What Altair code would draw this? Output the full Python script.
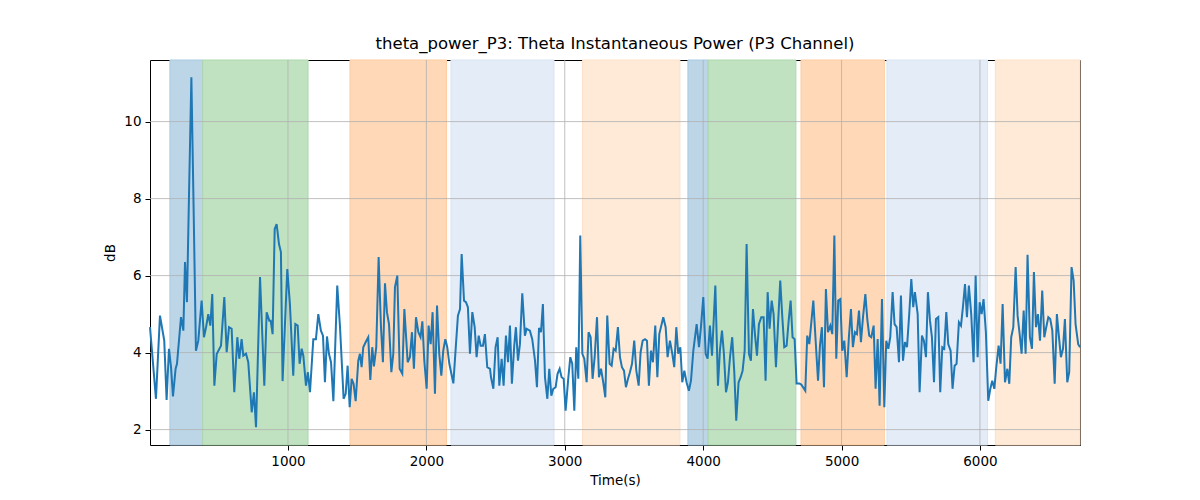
import altair as alt
import pandas as pd

# ---- line data (time in s, power in dB) ----
times = [3, 46, 75, 106, 123, 140, 155, 169, 188, 198, 227, 244, 256, 270, 285, 302, 318, 335, 352, 376,
         393, 408, 424, 439, 453, 468, 485, 516, 540, 557, 574, 593, 612,
         634, 648, 665, 677, 697, 713, 738, 754, 769, 798, 829, 846, 865, 875, 889, 904, 918, 935, 949, 961,
         995, 1014, 1038, 1053, 1070, 1084, 1099, 1111, 1130, 1144, 1159, 1183, 1202, 1219,
         1238, 1253, 1267, 1282, 1296, 1311, 1328, 1356, 1376, 1402, 1417, 1431, 1446, 1460, 1474, 1489,
         1508, 1520, 1532, 1544, 1561, 1580, 1595, 1609, 1621, 1638, 1655, 1672, 1686, 1701, 1715, 1730,
         1747, 1761, 1773, 1790, 1807, 1826, 1841,
         1865, 1881, 1896, 1910, 1925, 1942, 1958, 1971, 1985, 2002, 2016, 2031, 2045, 2062, 2077, 2093,
         2108, 2122, 2137, 2151, 2166, 2195, 2214, 2228, 2243, 2255, 2272, 2286, 2300, 2315, 2332, 2349,
         2363, 2378, 2392, 2409, 2423, 2440, 2460,
         2467, 2484, 2500, 2515, 2527, 2544, 2558, 2575, 2590, 2604, 2618, 2635, 2647, 2662, 2676, 2693,
         2712, 2724, 2748, 2765, 2785, 2799, 2814, 2828, 2842, 2857, 2874, 2888, 2903, 2917, 2934, 2948,
         2963, 2977, 2992, 3006, 3026, 3040, 3054, 3069,
         3083, 3098, 3112, 3127, 3141, 3158, 3172, 3187, 3201, 3216, 3233, 3247, 3262, 3278, 3293, 3307,
         3324, 3339, 3353, 3368, 3384, 3399, 3413, 3428, 3442, 3457, 3471, 3486, 3502, 3517, 3534, 3548,
         3563, 3580, 3594, 3608, 3623, 3637, 3654, 3669, 3683,
         3712, 3729, 3743, 3760, 3777, 3791, 3806, 3820, 3835, 3849, 3864, 3880, 3897, 3912, 3929, 3953,
         3970, 3984, 4001, 4018, 4032, 4049, 4064, 4088, 4107, 4121, 4136, 4150, 4165, 4179, 4194, 4210,
         4225, 4239, 4256, 4271,
         4285, 4300, 4314, 4331, 4345, 4360, 4374, 4389, 4403, 4420, 4437, 4451, 4466, 4480, 4495, 4509,
         4526, 4540, 4557, 4572, 4586, 4603, 4618, 4632, 4646, 4661, 4675, 4695, 4709, 4738, 4752, 4767,
         4796, 4810, 4830, 4844, 4858, 4873, 4887, 4902,
         4919, 4933, 4948, 4962, 4976, 4991, 5005, 5020, 5037, 5053, 5068, 5082, 5097, 5111, 5126, 5140,
         5155, 5172, 5186, 5200, 5215, 5232, 5246, 5261, 5275, 5292, 5309, 5323, 5338, 5352, 5369, 5383,
         5398, 5415, 5429, 5444, 5458, 5473, 5489, 5504, 5518, 5530,
         5550, 5564, 5581, 5595, 5610, 5624, 5639, 5653, 5668, 5682, 5699, 5713, 5728, 5742, 5757, 5771,
         5788, 5802, 5817, 5831, 5848, 5863, 5877, 5892, 5906, 5920, 5937, 5954, 5969, 5983, 5998, 6012,
         6026, 6043, 6060, 6075, 6089, 6104, 6118, 6135,
         6149, 6164, 6181, 6198, 6212, 6226, 6241, 6258, 6272, 6287, 6301, 6316, 6330, 6344, 6361, 6376,
         6390, 6405, 6419, 6434, 6450, 6465, 6479, 6494, 6508, 6523, 6540, 6556, 6571, 6585, 6600, 6614,
         6631, 6645, 6662, 6677, 6691, 6710, 6723]

power_db = [4.66, 2.80, 4.96, 4.31, 2.77, 4.10, 3.62, 2.86, 3.58, 3.71, 4.92, 4.57, 6.35, 5.31, 8.12, 11.15, 7.77, 4.05, 4.31, 5.35,
            4.40, 4.66, 5.00, 4.70, 5.52, 3.14, 3.96, 4.18, 5.44, 4.01, 4.66, 4.62, 2.97,
            4.40, 3.84, 4.35, 3.92, 3.97, 3.75, 2.45, 2.97, 2.06, 5.96, 3.14, 5.05, 4.83, 4.83, 4.48, 7.21, 7.34, 6.82, 6.61, 3.26,
            6.17, 5.26, 3.40, 4.74, 4.70, 3.71, 4.10, 3.92, 3.14, 3.49, 2.97, 4.35, 4.35, 5.00,
            4.57, 4.44, 3.23, 4.42, 3.97, 3.75, 2.74, 5.74, 4.66, 2.80, 2.93, 3.66, 2.58, 3.32, 3.19, 2.74,
            3.79, 3.97, 3.62, 4.14, 4.27, 4.40, 3.29, 4.14, 3.64, 4.14, 6.48, 4.66, 3.75, 5.80, 5.05, 4.74,
            3.49, 3.97, 5.70, 6.00, 3.58, 3.45, 5.13,
            3.75, 3.88, 4.53, 3.58, 4.92, 4.53, 4.40, 4.81, 3.79, 3.06, 4.70, 4.22, 5.05, 2.93, 5.22, 3.97,
            3.40, 4.05, 4.35, 4.14, 3.71, 3.20, 4.22, 4.96, 5.13, 6.56, 5.35, 5.31, 5.18, 3.97, 5.05, 4.66,
            3.88, 4.44, 4.18, 4.18, 4.48, 3.62, 3.58,
            3.36, 3.06, 4.14, 4.40, 3.14, 3.84, 3.14, 4.44, 3.75, 4.70, 3.19, 4.18, 4.66, 3.79, 4.22, 5.54,
            4.44, 4.62, 4.57, 4.35, 3.79, 3.10, 4.64, 4.53, 5.26, 3.36, 2.80, 3.58, 2.88, 3.06, 3.10, 3.45,
            3.58, 3.36, 3.32, 2.49, 3.36, 3.88, 3.71, 2.49,
            4.14, 3.32, 7.04, 3.97, 3.84, 3.23, 4.53, 4.40, 3.32, 3.88, 4.92, 3.36, 3.58, 3.23, 2.84, 4.96,
            3.71, 3.66, 4.10, 4.05, 4.66, 3.88, 3.62, 3.53, 3.10, 3.32, 3.49, 3.71, 4.31, 3.53, 3.14, 4.01,
            4.31, 4.35, 4.31, 3.14, 4.05, 3.75, 4.70, 3.36, 4.48,
            4.92, 4.66, 3.88, 4.31, 3.97, 3.62, 4.66, 3.97, 4.14, 3.23, 3.53, 3.23, 3.01, 3.27, 4.05, 4.74,
            4.14, 4.66, 5.44, 3.97, 3.84, 4.70, 3.92, 5.74, 3.14, 4.05, 4.57, 3.97, 2.97, 3.23, 3.88, 4.40,
            3.49, 2.23, 3.23, 3.36,
            3.53, 4.05, 6.82, 3.97, 3.79, 5.13, 4.48, 3.92, 4.74, 4.92, 4.92, 3.27, 5.57, 4.62, 5.35, 5.00,
            3.62, 4.66, 5.87, 4.92, 4.14, 4.18, 4.83, 5.35, 4.40, 4.35, 3.20, 3.20, 3.17, 3.01, 4.44, 4.22,
            5.35, 4.48, 3.27, 4.18, 4.66, 3.10, 5.65, 4.53,
            4.70, 4.48, 7.04, 3.84, 5.35, 5.39, 4.05, 4.31, 3.36, 4.40, 5.13, 4.14, 4.53, 4.48, 5.09, 4.27,
            4.92, 5.52, 4.87, 4.44, 4.40, 4.70, 3.06, 4.35, 2.62, 5.39, 2.58, 4.31, 4.10, 4.40, 5.57, 4.74,
            4.66, 3.75, 5.48, 3.79, 4.27, 4.14, 5.00, 5.91, 5.18, 5.57,
            5.00, 2.97, 4.44, 4.31, 3.88, 5.57, 4.83, 4.40, 3.23, 4.87, 4.92, 2.97, 4.14, 4.10, 5.05, 4.22,
            4.05, 3.06, 3.66, 3.71, 4.79, 4.70, 5.18, 5.78, 4.92, 5.74, 5.00, 3.75, 6.00, 3.88, 5.31, 5.00,
            5.39, 4.53, 2.75, 3.06, 3.27, 3.06, 3.62, 4.18,
            3.71, 5.26, 3.23, 3.58, 3.19, 4.40, 4.66, 6.22, 4.96, 4.48, 3.97, 5.09, 3.97, 6.54, 4.40, 4.10,
            6.09, 4.66, 5.00, 4.31, 5.61, 4.40, 4.66, 4.92, 4.87, 4.57, 3.19, 5.00, 4.40, 3.88, 4.10, 4.87,
            3.23, 3.49, 6.22, 5.87, 4.74, 4.22, 4.14]

# ---- shaded spans ----
span_starts = [147, 384, 1448, 2178, 3129, 3890, 4037, 4707, 5328, 6111]
span_ends = [384, 1145, 2146, 2922, 3832, 4037, 4670, 5309, 6055, 6723]
span_kinds = ["blue", "green", "orange", "lightblue", "lightorange",
              "blue", "green", "orange", "lightblue", "lightorange"]
kind_names = ["blue", "green", "orange", "lightblue", "lightorange"]
kind_colors = ["#bcd6e8", "#c0e2c0", "#ffd9b7", "#e4ecf7", "#ffead7"]
kind_edges = ["#a9c8e0", "#acd8ac", "#fdcba0", "#d9e4f3", "#fde0c6"]

# ---- ticks ----
x_ticks = [1000, 2000, 3000, 4000, 5000, 6000]
y_ticks = [2, 4, 6, 8, 10]
x_domain = [3, 6723]
y_domain = [1.6, 11.6]

FONT = "DejaVu Sans"

line_df = pd.DataFrame({"t": times, "v": power_db})
span_df = pd.DataFrame({"start": span_starts, "end": span_ends, "kind": span_kinds})
xt_df = pd.DataFrame({"xv": x_ticks})
yt_df = pd.DataFrame({"yv": y_ticks})

xscale = alt.Scale(domain=x_domain, nice=False, zero=False)
yscale = alt.Scale(domain=y_domain, nice=False, zero=False)
xaxis = alt.Axis(title="Time(s)", values=x_ticks, grid=False, format="d",
                 labelFlush=False, labelOverlap=False)
yaxis = alt.Axis(title="dB", values=y_ticks, grid=False, format="d")

spans = alt.Chart(span_df).mark_rect(strokeWidth=1).encode(
    x=alt.X("start:Q", scale=xscale, axis=xaxis),
    x2="end:Q",
    fill=alt.Fill("kind:N", scale=alt.Scale(domain=kind_names, range=kind_colors), legend=None),
    stroke=alt.Stroke("kind:N", scale=alt.Scale(domain=kind_names, range=kind_edges), legend=None),
)

xgrid = alt.Chart(xt_df).mark_rule(color="#b0b0b0", strokeWidth=0.8).encode(
    x=alt.X("xv:Q", scale=xscale, axis=xaxis)
)
ygrid = alt.Chart(yt_df).mark_rule(color="#b0b0b0", strokeWidth=0.8).encode(
    y=alt.Y("yv:Q", scale=yscale, axis=yaxis)
)

line = alt.Chart(line_df).mark_line(color="#1f77b4", strokeWidth=2).encode(
    x=alt.X("t:Q", scale=xscale, axis=xaxis),
    y=alt.Y("v:Q", scale=yscale, axis=yaxis),
)

chart = alt.layer(spans, xgrid, ygrid, line).properties(
    width=930,
    height=385,
    autosize=alt.AutoSizeParams(type="none"),
    padding={"left": 150, "top": 60, "right": 120, "bottom": 55},
    title=alt.TitleParams(
        "theta_power_P3: Theta Instantaneous Power (P3 Channel)",
        font=FONT, fontSize=16.5, fontWeight="normal", color="black",
        anchor="middle", offset=7,
    ),
).configure_view(
    stroke="black", strokeWidth=1
).configure_axis(
    domain=False,
    tickColor="black",
    tickSize=5,
    tickWidth=1,
    labelFont=FONT,
    labelFontSize=13.5,
    labelColor="black",
    labelPadding=4,
    titleFont=FONT,
    titleFontSize=13.5,
    titleFontWeight="normal",
    titleColor="black",
    titlePadding=6,
)

chart.save("out.html", embed_options={"renderer": "svg", "actions": False})
